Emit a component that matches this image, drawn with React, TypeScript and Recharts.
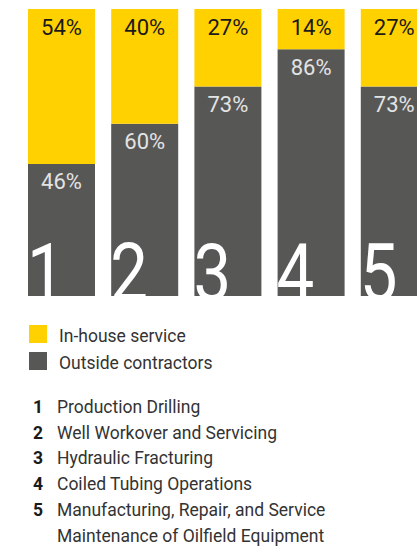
import React from 'react';
import { BarChart, Bar, XAxis, YAxis, LabelList } from 'recharts';

const categoryIds = ['1', '2', '3', '4', '5'];
const categoryNames = [
  ['Production Drilling'],
  ['Well Workover and Servicing'],
  ['Hydraulic Fracturing'],
  ['Coiled Tubing Operations'],
  ['Manufacturing, Repair, and Service', 'Maintenance of Oilfield Equipment'],
];
const inHouse = [54, 40, 27, 14, 27];
const outside = [46, 60, 73, 86, 73];
const seriesNames = ['In-house service', 'Outside contractors'];

const YELLOW = '#FFD100';
const GREY = '#575756';

const data = categoryIds.map((id, i) => ({ id, inHouse: inHouse[i], outside: outside[i] }));

const pctLabel = (color: string) => (props: any) => {
  const { x, y, width, value } = props;
  return (
    <text
      x={x + width / 2}
      y={y + 18}
      textAnchor="middle"
      dominantBaseline="central"
      fill={color}
      fontSize={22}
      fontFamily="Roboto, sans-serif"
    >
      {value}%
    </text>
  );
};

// big white category number sitting on the bottom of each bar
const bigNumber = (props: any) => {
  const { x, y, height, value } = props;
  return (
    <text
      transform={`translate(${x - 1}, ${y + height + 4}) scale(0.84, 1)`}
      x={0}
      y={0}
      fill="#ffffff"
      fontSize={80}
      fontFamily="Roboto, sans-serif"
    >
      {value}
    </text>
  );
};

export default function App() {
  return (
    <div
      style={{
        position: 'absolute',
        left: 0,
        top: 0,
        width: 417,
        height: 550,
        overflow: 'hidden',
        background: '#fff',
        fontFamily: 'Roboto, sans-serif',
      }}
    >
      <BarChart width={436} height={310} data={data} margin={{ top: 9, right: 0, bottom: 14, left: 20 }}>
        <XAxis dataKey="id" hide />
        <YAxis hide domain={[0, 100]} />
        <Bar dataKey="outside" stackId="a" fill={GREY} barSize={67} isAnimationActive={false}>
          <LabelList dataKey="id" content={bigNumber} />
          <LabelList dataKey="outside" content={pctLabel('#e3e3e3')} />
        </Bar>
        <Bar dataKey="inHouse" stackId="a" fill={YELLOW} barSize={67} isAnimationActive={false}>
          <LabelList dataKey="inHouse" content={pctLabel('#1a1a1a')} />
        </Bar>
      </BarChart>

      <div style={{ marginTop: 12, paddingLeft: 29 }}>
        {seriesNames.map((name, i) => (
          <div key={name} style={{ display: 'flex', alignItems: 'center', height: 27 }}>
            <span
              style={{
                display: 'inline-block',
                width: 18,
                height: 18,
                marginTop: -4,
                background: i === 0 ? YELLOW : GREY,
              }}
            />
            <span style={{ marginLeft: 12, fontSize: 17.5, color: '#333' }}>{name}</span>
          </div>
        ))}
      </div>

      <div style={{ marginTop: 19, paddingLeft: 33, fontSize: 17.5, lineHeight: '25.7px', color: '#333' }}>
        {categoryIds.map((id, i) => (
          <div key={id} style={{ display: 'flex' }}>
            <span style={{ width: 24, fontWeight: 700, color: '#1a1a1a' }}>{id}</span>
            <div>
              {categoryNames[i].map((line) => (
                <div key={line}>{line}</div>
              ))}
            </div>
          </div>
        ))}
      </div>
    </div>
  );
}
